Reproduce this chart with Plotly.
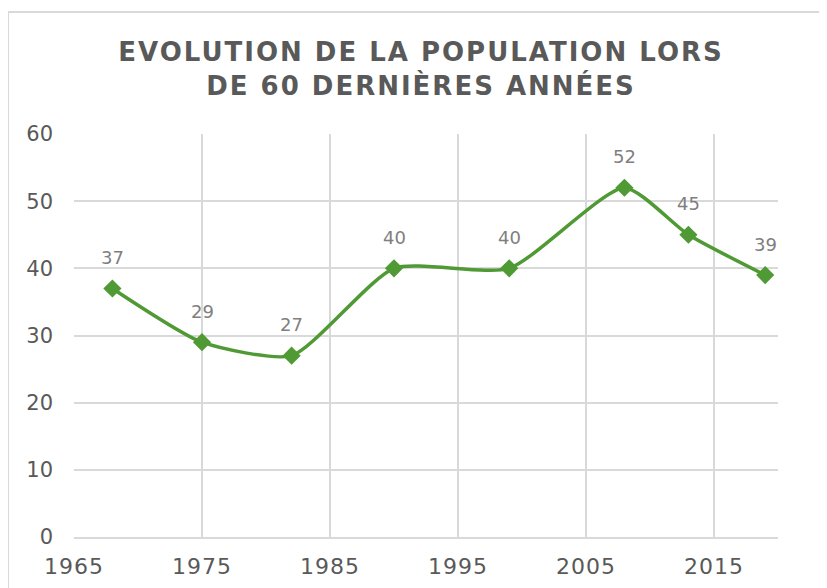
import plotly.graph_objects as go

years = [1968, 1975, 1982, 1990, 1999, 2008, 2013, 2019]
population = [37, 29, 27, 40, 40, 52, 45, 39]
x_ticks = [1965, 1975, 1985, 1995, 2005, 2015]
y_ticks = [0, 10, 20, 30, 40, 50, 60]
title_lines = ["EVOLUTION DE LA POPULATION LORS", "DE 60 DERNIÈRES ANNÉES"]

GREEN = "#4f9a34"
GRID = "#d9d9d9"
TXT = "#595959"
FONT = "DejaVu Sans, sans-serif"

fig = go.Figure()
fig.add_trace(go.Scatter(
    x=years, y=population,
    mode="lines+markers",
    line=dict(color=GREEN, width=3.5, shape="spline", smoothing=0.6),
    marker=dict(symbol="diamond", size=14, color=GREEN),
    hoverinfo="x+y",
    showlegend=False,
    cliponaxis=False,
))

for xv, yv in zip(years, population):
    fig.add_annotation(x=xv, y=yv, text=str(yv), showarrow=False,
                       yshift=31, xref="x", yref="y",
                       font=dict(family=FONT, size=18, color="#7f7f7f"))

# the page body adds an 8px offset; compensate
OFF = 8
W, H = 827, 588
L, T = 74 - OFF, 134 - OFF
pw, ph = 704, 403
R, B = W - L - pw, H - T - ph

def px_x(px):
    return (px - OFF - L) / pw

def px_y(py):
    return (T + ph - (py - OFF)) / ph

fig.add_shape(type="rect", xref="paper", yref="paper",
              x0=px_x(8), x1=px_x(860), y0=px_y(620), y1=px_y(12),
              line=dict(color=GRID, width=2), fillcolor="rgba(0,0,0,0)", layer="below")

title_html = "<br>".join('<span style="letter-spacing:2px">' + t + "</span>" for t in title_lines)
x_ticktext = ['<span style="letter-spacing:1px">' + str(t) + "</span>" for t in x_ticks]

fig.update_layout(
    width=W, height=H,
    margin=dict(l=L, r=R, t=T, b=B, autoexpand=False),
    paper_bgcolor="white", plot_bgcolor="white",
    font=dict(family=FONT, color=TXT),
    title=dict(
        text="<b>" + title_html + "</b>",
        x=(421 - OFF) / W, xanchor="center",
        y=1 - (61 - OFF) / H, yanchor="middle",
        font=dict(family=FONT, size=26, color=TXT),
    ),
    xaxis=dict(
        range=[1965, 2020], tickvals=x_ticks, ticktext=x_ticktext,
        showgrid=True, gridcolor=GRID, gridwidth=1.5,
        showline=True, linecolor=GRID, linewidth=1.5,
        zeroline=False, ticks="", tickfont=dict(size=22, color=TXT, family=FONT),
        ticklabelstandoff=9, automargin=False,
    ),
    yaxis=dict(
        range=[0, 60], tickvals=y_ticks,
        showgrid=True, gridcolor=GRID, gridwidth=1.5,
        showline=False, zeroline=False, ticks="",
        tickfont=dict(size=21, color=TXT, family=FONT),
        ticklabelstandoff=20, automargin=False,
    ),
)

fig.write_html("out.html")
